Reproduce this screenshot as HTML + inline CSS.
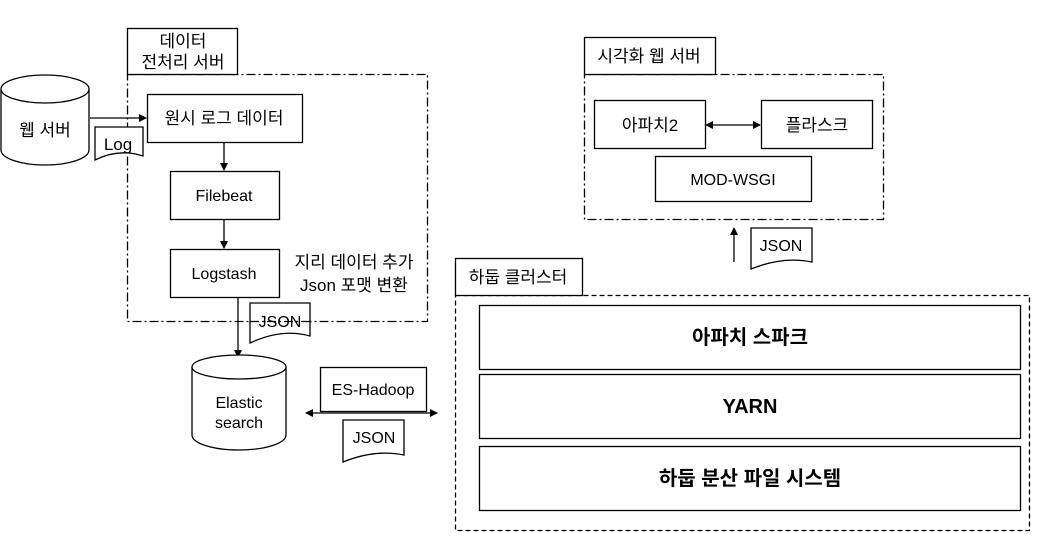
<!DOCTYPE html>
<html><head><meta charset="utf-8"><style>
html,body{margin:0;padding:0;background:#fff;}
svg{display:block;}
text{font-family:"Liberation Sans","Noto Sans CJK KR",sans-serif;fill:#000;}
</style></head><body>
<svg width="1037" height="537" viewBox="0 0 1037 537" xmlns="http://www.w3.org/2000/svg">
<defs>
<marker id="a" markerWidth="8" markerHeight="8" refX="7" refY="4" orient="auto" markerUnits="userSpaceOnUse"><path d="M0,0 L8,4 L0,8 z" fill="#000"/></marker>
<marker id="b" markerWidth="8" markerHeight="8" refX="1" refY="4" orient="auto" markerUnits="userSpaceOnUse"><path d="M8,0 L0,4 L8,8 z" fill="#000"/></marker>
</defs>
<g fill="none" stroke="#000" stroke-width="1.3">
<rect x="127.5" y="74.5" width="300" height="247" stroke-dasharray="9,3,2,3"/>
<rect x="127.5" y="28.5" width="110" height="46" fill="#fff"/>
<path d="M1,89 L1,150 A44,15 0 0 0 89,150 L89,89" fill="#fff"/>
<ellipse cx="45" cy="89" rx="44" ry="14" fill="#fff"/>
<line x1="90" y1="118" x2="146" y2="118" marker-end="url(#a)"/>
<path d="M95,127 L143,127 L143,156 Q119,148 95,160 Z" fill="#fff"/>
<rect x="147.5" y="94.5" width="155" height="48" fill="#fff"/>
<line x1="224" y1="143" x2="224" y2="170" marker-end="url(#a)"/>
<rect x="170.5" y="171.5" width="109" height="48" fill="#fff"/>
<line x1="224" y1="220" x2="224" y2="248" marker-end="url(#a)"/>
<rect x="170.5" y="249.5" width="109" height="48" fill="#fff"/>
<line x1="238" y1="297" x2="238" y2="357" marker-end="url(#a)"/>
<path d="M250,303 L310,303 L310,336 Q282,328 250,343 Z" fill="#fff"/>
<line x1="250" y1="321.5" x2="310" y2="321.5" stroke-dasharray="9,3,2,3"/>
<path d="M192,367 L192,435 A47,15 0 0 0 286,435 L286,367" fill="#fff"/>
<ellipse cx="239" cy="367" rx="47" ry="12" fill="#fff"/>
<rect x="320.5" y="367.5" width="106" height="44" fill="#fff"/>
<line x1="306" y1="413" x2="437" y2="413" marker-start="url(#b)" marker-end="url(#a)"/>
<path d="M343,420 L404,420 L404,455 Q375,449 343,462 Z" fill="#fff"/>
<rect x="584.5" y="74.5" width="299" height="145" stroke-dasharray="9,3,2,3"/>
<rect x="584.5" y="37.5" width="131" height="37" fill="#fff"/>
<rect x="594.5" y="100.5" width="111" height="48" fill="#fff"/>
<rect x="761.5" y="100.5" width="111" height="48" fill="#fff"/>
<line x1="706" y1="125" x2="760" y2="125" marker-start="url(#b)" marker-end="url(#a)"/>
<rect x="655.5" y="156.5" width="156" height="45" fill="#fff"/>
<line x1="734" y1="262" x2="734" y2="228" marker-end="url(#a)"/>
<path d="M751,228 L812,228 L812,262 Q783,256 751,269 Z" fill="#fff"/>
<rect x="455.5" y="295.5" width="574" height="235" stroke-dasharray="5,3"/>
<rect x="455.5" y="258.5" width="127" height="37" fill="#fff"/>
<rect x="479.5" y="305.5" width="541" height="64" fill="#fff"/>
<rect x="479.5" y="374.5" width="541" height="64" fill="#fff"/>
<rect x="479.5" y="446.5" width="541" height="64" fill="#fff"/>
</g>
<g font-size="17" text-anchor="middle">
<text x="183" y="47">데이터</text>
<text x="183" y="68">전처리 서버</text>
<text x="45" y="136">웹 서버</text>
<text x="118" y="150">Log</text>
<text x="224" y="124">원시 로그 데이터</text>
<text x="224" y="201" font-size="16">Filebeat</text>
<text x="224" y="279" font-size="16">Logstash</text>
<text x="354" y="268">지리 데이터 추가</text>
<text x="354" y="291">Json 포맷 변환</text>
<text x="280" y="327" font-size="16">JSON</text>
<text x="239" y="408" font-size="16">Elastic</text>
<text x="239" y="428" font-size="16">search</text>
<text x="373" y="395" font-size="16">ES-Hadoop</text>
<text x="374" y="443" font-size="16">JSON</text>
<text x="649" y="62">시각화 웹 서버</text>
<text x="650" y="131">아파치2</text>
<text x="817" y="131">플라스크</text>
<text x="733" y="185" font-size="16">MOD-WSGI</text>
<text x="781" y="251" font-size="16">JSON</text>
<text x="518" y="283">하둡 클러스터</text>
<g font-weight="bold" font-size="20">
<text x="750" y="344">아파치 스파크</text>
<text x="750" y="413">YARN</text>
<text x="750" y="485">하둡 분산 파일 시스템</text>
</g>
</g>
</svg>
</body></html>
